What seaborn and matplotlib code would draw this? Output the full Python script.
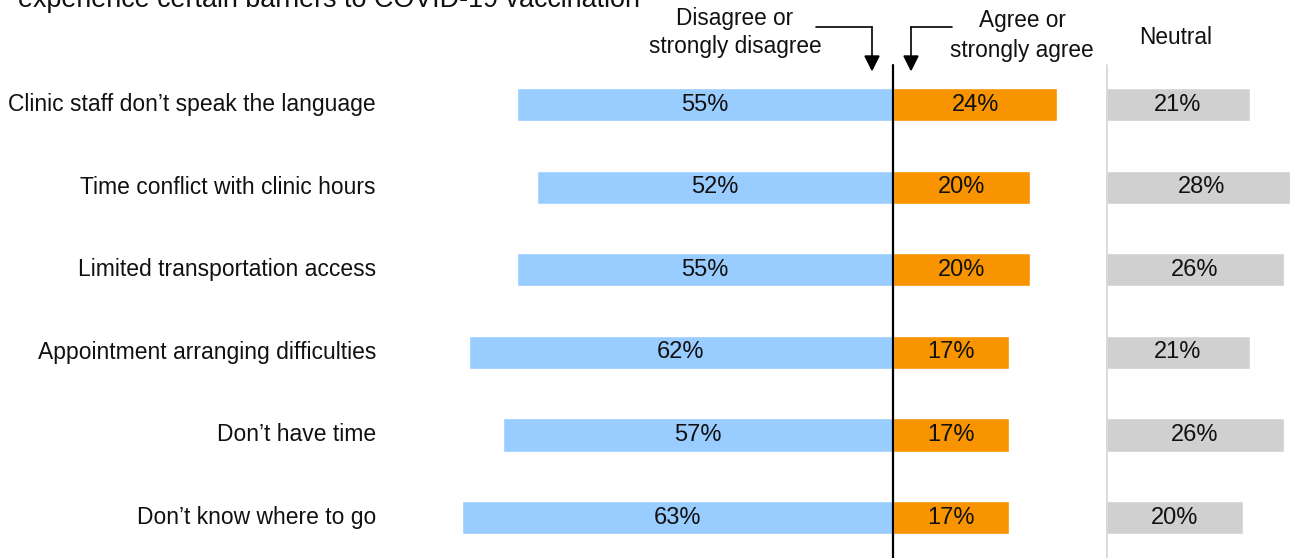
import matplotlib
matplotlib.use("Agg")
import matplotlib.pyplot as plt
import seaborn as sns
import pandas as pd
from matplotlib.lines import Line2D

categories = [
    "Clinic staff don\u2019t speak the language",
    "Time conflict with clinic hours",
    "Limited transportation access",
    "Appointment arranging difficulties",
    "Don\u2019t have time",
    "Don\u2019t know where to go",
]
disagree = [55, 52, 55, 62, 57, 63]
agree = [24, 20, 20, 17, 17, 17]
neutral = [21, 28, 26, 21, 26, 20]

title = "experience certain barriers to COVID-19 vaccination"

C_BLUE = "#99CCFF"
C_ORANGE = "#F79400"
C_GREY = "#D0D0D0"

sns.set_theme(style="white")
plt.rcParams["font.family"] = ["Liberation Sans", "DejaVu Sans"]

W, H = 1290, 558
fig = plt.figure(figsize=(W / 100, H / 100), dpi=100)

PX = 6.845         # pixels per percent
CX = 893           # zero line pixel
ROW0, ROWSTEP = 105, 82.5
ylim = ((H - ROW0) / ROWSTEP, -ROW0 / ROWSTEP)

df = pd.DataFrame({"cat": categories, "dis": [-v for v in disagree],
                   "agr": agree, "neu": neutral})

ax = fig.add_axes([0, 0, 1, 1])
sns.barplot(data=df, y="cat", x="dis", orient="h", color=C_BLUE, width=0.4,
            saturation=1, ax=ax, order=categories)
sns.barplot(data=df, y="cat", x="agr", orient="h", color=C_ORANGE, width=0.4,
            saturation=1, ax=ax, order=categories)
ax.set_xlim(-CX / PX, (W - CX) / PX)
ax.set_ylim(*ylim)
ax.axis("off")

fs_val = 17
fs_lab = 16.5
fs_head = 16.3
ax.bar_label(ax.containers[0], labels=[f"{v}%" for v in disagree],
             label_type="center", fontsize=fs_val, color="#111111")
ax.bar_label(ax.containers[1], labels=[f"{v}%" for v in agree],
             label_type="center", fontsize=fs_val, color="#111111")

line_top = (H - 65) / H
ax.axvline(0, ymin=0, ymax=line_top, color="black", lw=1.6)

for i, c in enumerate(categories):
    ax.text((376 - CX) / PX, i, c, ha="right", va="center", fontsize=fs_lab,
            color="#111111")

# neutral panel
NX = 1106
axn = fig.add_axes([NX / W, 0, 300 / W, 1])
sns.barplot(data=df, y="cat", x="neu", orient="h", color=C_GREY, width=0.4,
            saturation=1, ax=axn, order=categories)
axn.set_xlim(0, 300 / PX)
axn.set_ylim(*ylim)
axn.axis("off")
axn.bar_label(axn.containers[0], labels=[f"{v}%" for v in neutral],
              label_type="center", fontsize=fs_val, color="#111111")
axn.axvline(0, ymin=0, ymax=line_top, color="#D9D9D9", lw=2)

def fy(y):
    return H - y

# title (partially cropped at the top, as in the original)
fig.text(18, fy(7), title, transform=None, ha="left", va="baseline",
         fontsize=19.4, color="#111111")
fig.text(735 / W, fy(19) / H, "Disagree or", ha="center", va="center",
         fontsize=fs_head, color="#111111")
fig.text(735 / W, fy(47) / H, "strongly disagree", ha="center", va="center",
         fontsize=fs_head, color="#111111")
fig.text(1022 / W, fy(21) / H, "Agree or", ha="center", va="center",
         fontsize=fs_head, color="#111111")
fig.text(1022 / W, fy(50) / H, "strongly agree", ha="center", va="center",
         fontsize=fs_head, color="#111111")
fig.text(1176 / W, fy(38) / H, "Neutral", ha="center", va="center",
         fontsize=fs_head, color="#111111")

# arrows
for hx0, vx in [(816, 872), (952, 911)]:
    fig.add_artist(Line2D([hx0 / W, vx / W], [fy(27) / H, fy(27) / H],
                          color="black", lw=1.2))
    fig.add_artist(Line2D([vx / W, vx / W], [fy(27) / H, fy(57) / H],
                          color="black", lw=1.2))
    fig.patches.append(plt.Polygon(
        [[(vx - 7) / W, fy(56) / H], [(vx + 7) / W, fy(56) / H],
         [vx / W, fy(70) / H]], closed=True, color="black",
        transform=fig.transFigure, figure=fig))

fig.savefig("out.png", dpi=100)
